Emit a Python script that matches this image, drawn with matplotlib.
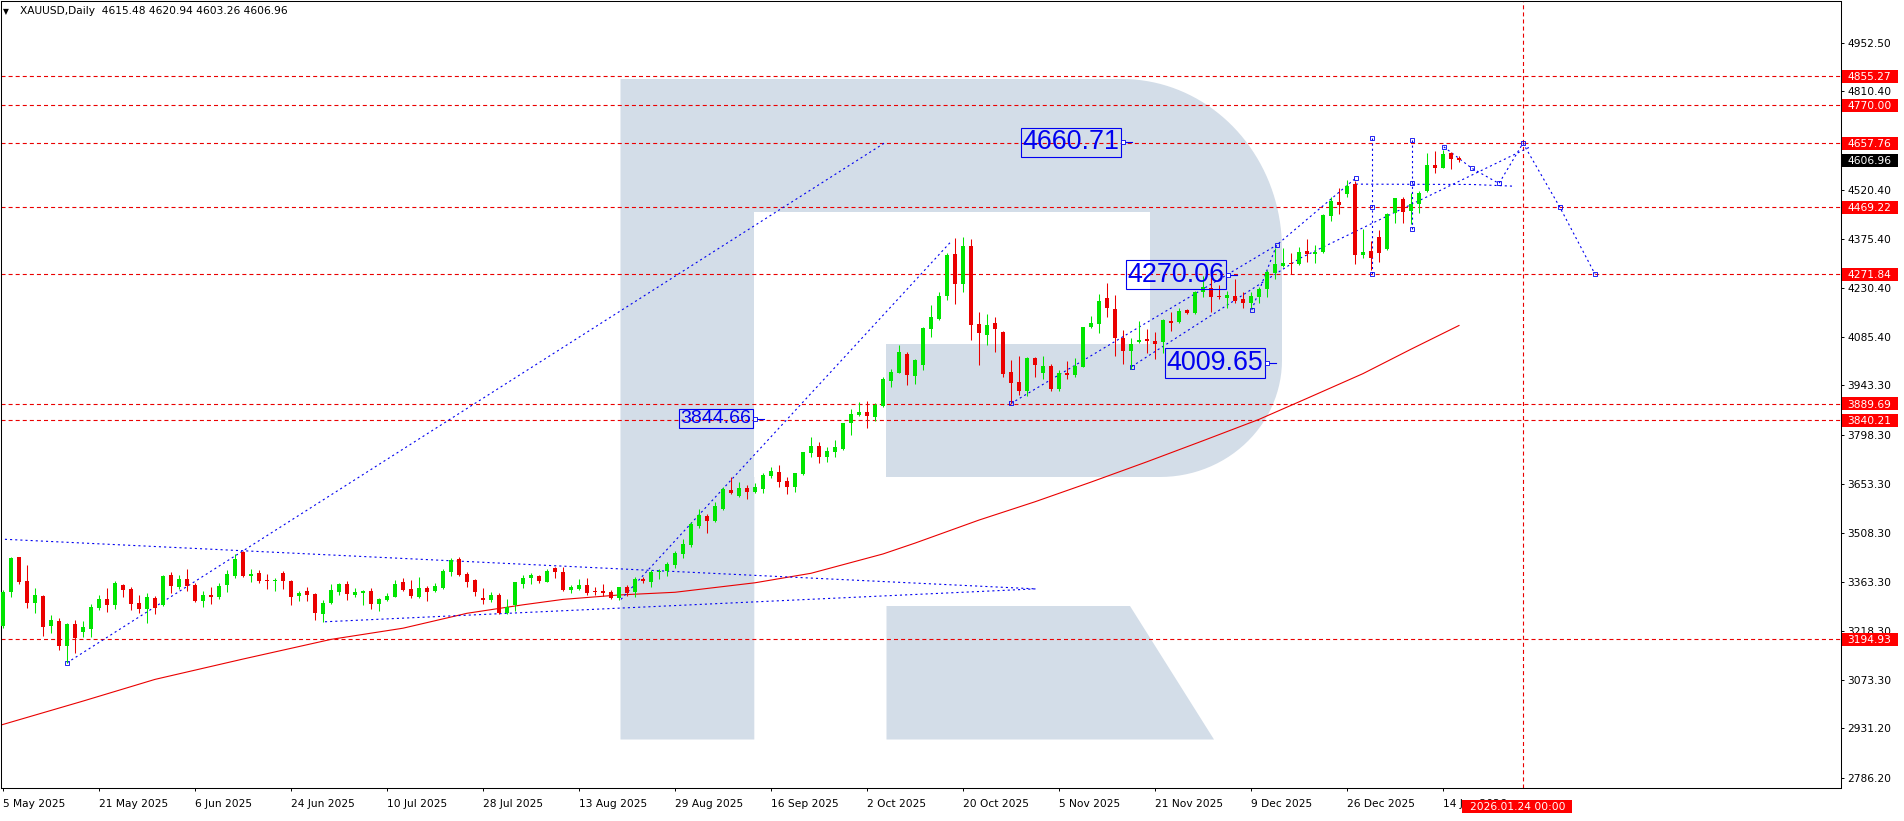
import numpy as np
import matplotlib
matplotlib.use("Agg")
import matplotlib.pyplot as plt
from matplotlib.patches import Rectangle, Polygon
from matplotlib.transforms import blended_transform_factory

plt.rcParams['font.family'] = ['DejaVu Sans']
plt.rcParams['lines.scale_dashes'] = False

# DATA ------------------------------------------------------------
# daily candles XAUUSD, bar 0 = 5 May 2025, last bar = 16 Jan 2026
opens = [3234, 3335, 3437, 3366, 3302, 3322, 3234, 3248, 3174, 3239,
         3217, 3225, 3287, 3313, 3294, 3354, 3343, 3301, 3285, 3316,
         3296, 3384, 3349, 3372, 3354, 3307, 3325, 3319, 3354, 3381,
         3453, 3381, 3390, 3370, 3368, 3390, 3367, 3322, 3337, 3328,
         3270, 3301, 3335, 3357, 3325, 3332, 3337, 3299, 3311, 3320,
         3363, 3343, 3319, 3346, 3338, 3347, 3394, 3431, 3387, 3369,
         3316, 3311, 3325, 3273, 3294, 3357, 3374, 3381, 3364, 3404,
         3394, 3340, 3343, 3355, 3337, 3336, 3333, 3315, 3348, 3333,
         3371, 3364, 3392, 3397, 3414, 3446, 3471, 3529, 3558, 3544,
         3579, 3635, 3618, 3640, 3630, 3638, 3677, 3687, 3661, 3643,
         3682, 3745, 3764, 3733, 3748, 3756, 3831, 3856, 3864, 3851,
         3883, 3956, 3981, 4036, 3972, 4003, 4109, 4139, 4207, 4331,
         4243, 4355, 4124, 4092, 4126, 4102, 3982, 3953, 3928, 4023,
         3979, 4001, 3932, 3979, 3974, 3999, 4115, 4123, 4200, 4168,
         4084, 4045, 4070, 4080, 4074, 4070, 4133, 4129, 4166, 4156,
         4220, 4230, 4207, 4202, 4208, 4198, 4187, 4205, 4228, 4274,
         4296, 4303, 4300, 4340, 4330, 4336, 4444, 4483, 4508, 4537,
         4328, 4341, 4382, 4346, 4451, 4492, 4459, 4477, 4518, 4593,
         4586, 4628, 4615.48]
highs = [3340, 3436, 3438, 3413, 3346, 3324, 3266, 3257, 3241, 3251,
         3248, 3297, 3325, 3346, 3366, 3356, 3349, 3325, 3331, 3323,
         3383, 3393, 3384, 3402, 3359, 3337, 3348, 3360, 3399, 3446,
         3455, 3402, 3399, 3387, 3376, 3396, 3370, 3338, 3349, 3330,
         3311, 3357, 3360, 3366, 3346, 3341, 3346, 3316, 3331, 3369,
         3376, 3369, 3378, 3351, 3360, 3402, 3434, 3437, 3393, 3372,
         3346, 3334, 3332, 3313, 3364, 3384, 3391, 3384, 3401, 3407,
         3407, 3355, 3371, 3374, 3348, 3357, 3340, 3350, 3355, 3377,
         3377, 3399, 3401, 3423, 3455, 3489, 3541, 3578, 3564, 3598,
         3645, 3672, 3657, 3649, 3654, 3684, 3704, 3707, 3674, 3686,
         3748, 3790, 3777, 3763, 3782, 3833, 3873, 3895, 3897, 3892,
         3969, 3992, 4061, 4043, 4021, 4117, 4181, 4220, 4333, 4377,
         4382, 4375, 4159, 4154, 4146, 4104, 4018, 4030, 4028, 4028,
         4030, 4006, 3989, 4016, 4023, 4117, 4148, 4212, 4246, 4210,
         4107, 4082, 4134, 4110, 4102, 4139, 4161, 4173, 4168, 4222,
         4266, 4264, 4239, 4222, 4256, 4220, 4220, 4233, 4284, 4350,
         4350, 4335, 4351, 4375, 4357, 4448, 4498, 4525, 4549, 4547,
         4404, 4370, 4402, 4451, 4497, 4498, 4510, 4517, 4630, 4636,
         4638, 4633, 4620.94]
lows = [3228, 3320, 3357, 3288, 3273, 3205, 3214, 3163, 3125, 3154,
        3202, 3202, 3281, 3275, 3285, 3320, 3282, 3273, 3243, 3270,
        3293, 3332, 3342, 3338, 3305, 3291, 3299, 3314, 3334, 3376,
        3378, 3363, 3361, 3344, 3337, 3343, 3294, 3308, 3308, 3251,
        3245, 3299, 3325, 3311, 3320, 3294, 3285, 3279, 3308, 3319,
        3338, 3317, 3317, 3308, 3334, 3344, 3382, 3381, 3349, 3323,
        3299, 3305, 3269, 3270, 3278, 3345, 3357, 3359, 3362, 3374,
        3337, 3330, 3340, 3325, 3325, 3322, 3312, 3310, 3322, 3320,
        3359, 3350, 3371, 3382, 3404, 3435, 3468, 3524, 3509, 3539,
        3576, 3623, 3613, 3608, 3625, 3625, 3671, 3645, 3623, 3630,
        3679, 3733, 3715, 3718, 3733, 3753, 3797, 3853, 3817, 3839,
        3881, 3940, 3979, 3943, 3946, 3989, 4087, 4136, 4195, 4183,
        4218, 4077, 4002, 4062, 4043, 3969, 3890, 3915, 3912, 3969,
        3961, 3928, 3928, 3961, 3969, 3997, 4112, 4097, 4144, 4030,
        4005, 3992, 4067, 4040, 4020, 4038, 4105, 4126, 4154, 4153,
        4205, 4161, 4197, 4173, 4187, 4173, 4173, 4187, 4203, 4256,
        4294, 4271, 4298, 4306, 4305, 4333, 4429, 4448, 4500, 4300,
        4320, 4284, 4308, 4343, 4421, 4421, 4418, 4451, 4513, 4569,
        4586, 4581, 4603.26]
closes = [3335, 3434, 3364, 3302, 3325, 3232, 3251, 3174, 3239, 3199,
          3232, 3291, 3313, 3294, 3360, 3341, 3298, 3285, 3319, 3288,
          3381, 3352, 3372, 3352, 3307, 3325, 3320, 3351, 3387, 3431,
          3381, 3387, 3366, 3368, 3370, 3367, 3320, 3331, 3326, 3273,
          3301, 3340, 3357, 3328, 3334, 3337, 3299, 3313, 3323, 3357,
          3341, 3323, 3346, 3335, 3351, 3396, 3428, 3385, 3364, 3335,
          3311, 3325, 3272, 3291, 3363, 3374, 3384, 3367, 3397, 3394,
          3340, 3348, 3355, 3332, 3333, 3330, 3315, 3348, 3330, 3372,
          3366, 3394, 3397, 3416, 3448, 3475, 3534, 3561, 3544, 3588,
          3638, 3625, 3640, 3630, 3645, 3679, 3691, 3657, 3643, 3684,
          3746, 3764, 3733, 3750, 3763, 3831, 3858, 3866, 3854, 3886,
          3962, 3984, 4041, 3974, 4018, 4114, 4146, 4207, 4328, 4243,
          4355, 4121, 4099, 4121, 4110, 3977, 3949, 3928, 4023, 4002,
          4001, 3932, 3979, 3974, 4001, 4115, 4126, 4193, 4171, 4084,
          4045, 4064, 4077, 4075, 4064, 4136, 4128, 4163, 4156, 4220,
          4233, 4205, 4203, 4210, 4193, 4187, 4207, 4228, 4279, 4301,
          4305, 4300, 4338, 4331, 4338, 4446, 4488, 4475, 4532, 4328,
          4336, 4320, 4333, 4449, 4495, 4454, 4477, 4510, 4593, 4586,
          4626, 4611, 4606.96]

date_labels = ["5 May 2025", "21 May 2025", "6 Jun 2025", "24 Jun 2025",
               "10 Jul 2025", "28 Jul 2025", "13 Aug 2025", "29 Aug 2025",
               "16 Sep 2025", "2 Oct 2025", "20 Oct 2025", "5 Nov 2025",
               "21 Nov 2025", "9 Dec 2025", "26 Dec 2025", "14 Jan 2026"]
price_ticks = [4952.50, 4810.40, 4520.40, 4375.40, 4230.40, 4085.40, 3943.30,
               3798.30, 3653.30, 3508.30, 3363.30, 3218.30, 3073.30, 2931.20,
               2786.20]
levels = [4855.27, 4770.00, 4657.76, 4469.22, 4271.84, 3889.69, 3840.21, 3194.93]
last_price = 4606.96
title = "XAUUSD,Daily  4615.48 4620.94 4603.26 4606.96"
future_bar = 190
future_label = "2026.01.24 00:00"

# moving average
ma_idx = [-0.3, 10, 19, 30, 41, 50, 58, 65, 70, 77, 84, 94, 101, 110, 114, 118,
          122, 129, 136, 143, 150, 157, 163, 170, 176, 182]
ma_val = [2941, 3012, 3076, 3136, 3194, 3227, 3271, 3296, 3312, 3325, 3333, 3361,
          3389, 3446, 3478, 3512, 3546, 3600, 3658, 3718, 3780, 3843, 3905, 3978,
          4050, 4120]

# blue drawings (bar index, price)
trend_lines = [
    ([8, 110.3], [3125, 4660]),
    ([-0.4, 129.1], [3490, 3343]),
    ([40.25, 129.1], [3246, 3343]),
    ([77.25, 118.6], [3312, 4370]),
    ([126, 159.2], [3890, 4357]),
    ([141.1, 162.1, 190.9], [3999, 4318, 4647]),
    ([156.1, 159.2, 169.1], [4166, 4357, 4555]),
    ([171.1, 171.1], [4672, 4272]),
    ([176.1, 176.1], [4667, 4405]),
    ([169.1, 183.6, 188.8], [4537, 4536, 4531]),
    ([180.1, 183.6, 187.0, 190.0, 194.6, 199.0], [4647, 4584, 4539, 4657.76, 4469.22, 4271.84]),
]
anchor_pts_x = [126, 141.1, 156.1, 159.2, 169.1, 171.1, 171.1, 171.1, 176.1, 176.1,
                176.1, 180.1, 183.6, 187.0, 190.0, 194.6, 199.0, 8]
anchor_pts_y = [3890, 3999, 4166, 4357, 4555, 4672, 4470, 4272, 4667, 4539,
                4405, 4647, 4584, 4539, 4657.76, 4469.22, 4271.84, 3125]

price_labels = ["4660.71", "4270.06", "4009.65", "3844.66"]
label_bar = [140.0, 153.1, 158.0, 94.0]
label_size = [19.4, 19.4, 19.4, 14.0]

# LAYOUT ----------------------------------------------------------
W, H = 1904, 821
L_PX, R_PX, T_PX, B_PX = 1, 1840.5, 1, 788
GREEN = '#00e400'
RED = '#ea0000'
BLUE = '#0000f0'
SHADE = '#d3dde8'

fig = plt.figure(figsize=(W / 100, H / 100), dpi=100)
ax = fig.add_axes([L_PX / W, (H - B_PX) / H, (R_PX - L_PX) / W, (B_PX - T_PX) / H])
ax.set_xlim(-0.25, 229.69)
ax.set_ylim(2755.6, 5077.25)


def fx(x):
    return (x - L_PX) / (R_PX - L_PX)


def fy(y):
    return (B_PX - y) / (B_PX - T_PX)


# watermark "R" (screen overlay, axes coords)
t1 = np.radians(np.linspace(90, 0, 40))
t2 = np.radians(np.linspace(0, -90, 30))
outer = [(620.5, 739.5), (620.5, 79), (1122, 79)]
outer += list(zip(1122 + 160 * np.cos(t1), 249 - 170 * np.sin(t1)))
outer += [(1282, 360)]
outer += list(zip(1160 + 122 * np.cos(t2), 360 - 117 * np.sin(t2)))
outer += [(754.3, 477), (754.3, 739.5)]
hole = [(754.3, 211.7), (1150, 211.7), (1150, 344.3), (885.7, 344.3), (885.7, 477), (754.3, 477)]
leg = [(886.5, 606), (1130, 606), (1214, 739.5), (886.5, 739.5)]
for pts, fc, z in [(outer, SHADE, 0.2), (hole, 'white', 0.3), (leg, SHADE, 0.2)]:
    ax.add_patch(Polygon([(fx(a), fy(b)) for a, b in pts], closed=True, fc=fc, ec='none',
                         transform=ax.transAxes, zorder=z))

# horizontal levels and future line
for lv in levels:
    ax.axhline(lv, color=RED, lw=0.8, dashes=(2.9, 2.2), zorder=1)
ax.axvline(future_bar, color=RED, lw=0.8, dashes=(2.9, 2.2), zorder=1)

# moving average
ax.plot(ma_idx, ma_val, color=RED, lw=0.8, zorder=2)

# blue drawings
for xs, ys in trend_lines:
    ax.plot(xs, ys, color=BLUE, lw=0.8, dashes=(1.5, 2.2), zorder=2.2)
ax.plot(anchor_pts_x, anchor_pts_y, ls='none', marker='s', ms=2.6, mfc='none',
        mec=BLUE, mew=0.6, zorder=2.3)

# candles
o, h, l, c = map(np.array, (opens, highs, lows, closes))
idx = np.arange(len(o))
cols = np.where(c >= o, GREEN, RED)
ax.vlines(idx, l, h, colors=cols, lw=0.75, zorder=3)
body = np.abs(c - o)
small = body < 3
body_h = np.where(small, 3, body)
body_lo = np.where(small, (o + c) / 2 - 1.5, np.minimum(o, c))
ax.bar(idx, body_h, bottom=body_lo, width=0.62, color=cols, lw=0, zorder=4)

# price labels with blue boxes
for s, xb, fs in zip(price_labels, label_bar, label_size):
    pv = float(s)
    ax.text(xb - 0.45, pv, s, ha='right', va='center', fontsize=fs, color=BLUE,
            family=['Liberation Sans', 'DejaVu Sans'], zorder=5,
            bbox=dict(boxstyle='square,pad=0.06', fc='none', ec=BLUE, lw=0.8))
    ax.plot([xb, xb + 1.1], [pv, pv], color=BLUE, lw=0.8, zorder=5)
    ax.plot([xb], [pv], ls='none', marker='s', ms=2.6, mfc='white', mec=BLUE, mew=0.6, zorder=6)

# axes styling
for sp in ax.spines.values():
    sp.set_linewidth(0.75)
    sp.set_color('black')
ax.yaxis.tick_right()
ax.set_yticks(price_ticks)
ax.set_yticklabels([f"{v:.2f}" for v in price_ticks])
ax.set_xticks(np.arange(len(date_labels)) * 12)
ax.set_xticklabels(date_labels, ha='left')
ax.tick_params(axis='y', length=2.2, width=0.7, pad=2.7, labelsize=7.7, colors='black')
ax.tick_params(axis='x', length=2.2, width=0.7, pad=6, labelsize=7.7, colors='black')

# right-side price boxes
tr = blended_transform_factory(ax.transAxes, ax.transData)
box_x0 = fx(1841.7)
box_w = fx(1898) - fx(1841.7)
box_h = 13 * (5077.25 - 2755.6) / (B_PX - T_PX)
for lv, fc in [(v, '#ff0000') for v in levels] + [(last_price, 'black')]:
    ax.add_patch(Rectangle((box_x0, lv - box_h / 2), box_w, box_h, transform=tr,
                           fc=fc, ec='none', clip_on=False, zorder=7))
    ax.text(fx(1847.3), lv, f"{lv:.2f}", transform=tr, ha='left', va='center_baseline',
            fontsize=7.7, color='white', clip_on=False, zorder=8)

# future time box on the x axis
trx = blended_transform_factory(ax.transData, ax.transAxes)
bw = 110 / 8
ax.add_patch(Rectangle((future_bar - bw / 2 - 0.7, fy(812.5)), bw, fy(799.5) - fy(812.5),
                       transform=trx, fc='#ff0000', ec='none', clip_on=False, zorder=7))
ax.text(future_bar - 0.7, fy(806), future_label, transform=trx, ha='center',
        va='center_baseline', fontsize=7.7, color='white', clip_on=False, zorder=8)

# title
ax.text(fx(3), fy(11.5), "\u25bc", transform=ax.transAxes, ha='left', va='center',
        fontsize=5.5, color='black', zorder=8)
ax.text(fx(20), fy(11.5), title, transform=ax.transAxes, ha='left', va='center',
        fontsize=7.7, color='black', zorder=8)

fig.savefig("out.png", dpi=100)
